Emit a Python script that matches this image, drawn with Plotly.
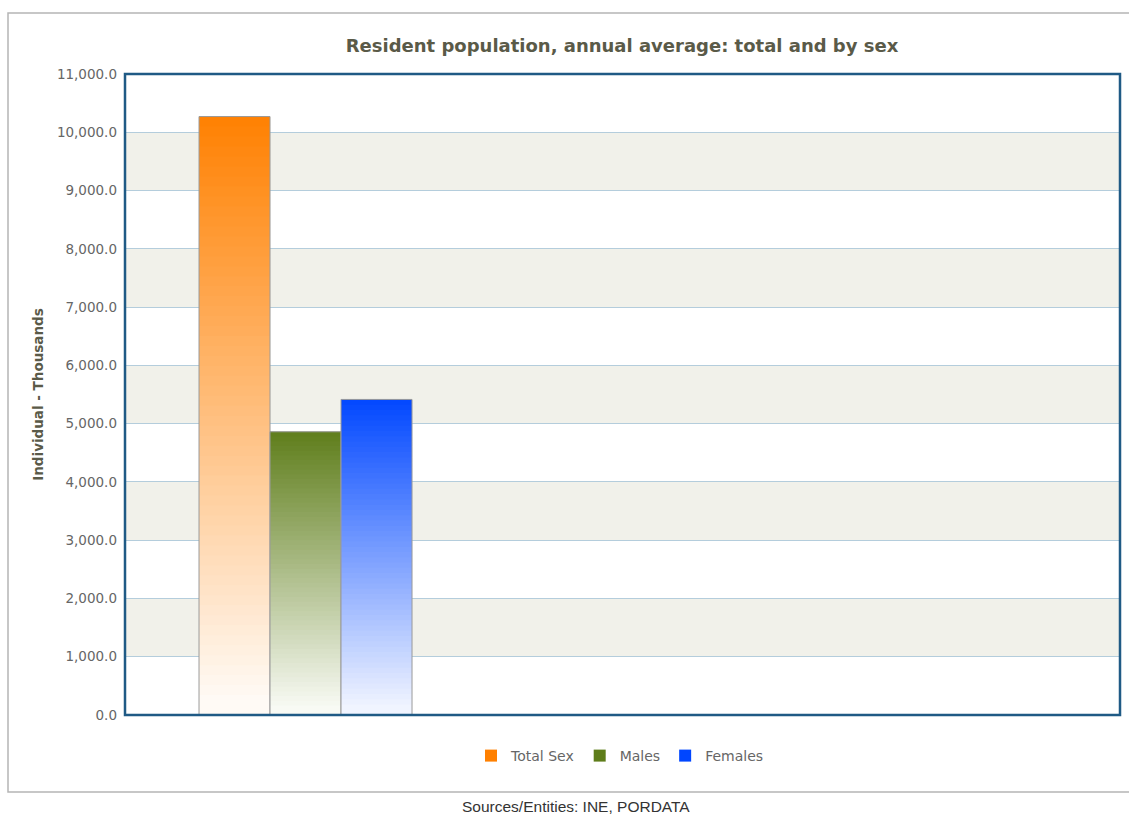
import plotly.graph_objects as go

# ---- data ----
categories = ["Portugal"]
series_names = ["Total Sex", "Males", "Females"]
series_values = [10270.0, 4860.0, 5415.0]
tick_values = [0, 1000, 2000, 3000, 4000, 5000, 6000, 7000, 8000, 9000, 10000, 11000]

top_colors = [(255, 128, 0), (94, 125, 26), (0, 70, 255)]
bottom_colors = [(255, 250, 245), (248, 250, 244), (240, 244, 255)]

N = 60
fig = go.Figure()
bar_w = 0.8 / 3
for i, (name, val) in enumerate(zip(series_names, series_values)):
    h = val / N
    bases, heights, cols = [], [], []
    for k in range(N):
        t = k / (N - 1)
        c = tuple(int(round(top_colors[i][j] + (bottom_colors[i][j] - top_colors[i][j]) * t)) for j in range(3))
        b = val - (k + 1) * h
        bases.append(b)
        heights.append(h if k == 0 else 2 * h)
        cols.append("rgb(%d,%d,%d)" % c)
    fig.add_trace(go.Bar(
        x=[categories[0]] * N, y=heights, base=bases, name=name,
        width=bar_w, offset=-0.4 + i * bar_w,
        marker=dict(color=cols, line=dict(width=0)),
        showlegend=True, legendgroup=name, hoverinfo="skip",
    ))
    fig.add_trace(go.Bar(
        x=[categories[0]], y=[val], width=bar_w, offset=-0.4 + i * bar_w,
        marker=dict(color="rgba(0,0,0,0)", line=dict(color="#9a9a9a", width=1)),
        showlegend=False, legendgroup=name, name=name,
        hovertemplate=name + ": %{y:,.1f}<extra></extra>",
    ))

shapes = []
for lo in range(1000, 11000, 2000):
    shapes.append(dict(type="rect", xref="paper", yref="y", x0=0, x1=1, y0=lo, y1=lo + 1000,
                       fillcolor="#F1F1EA", line=dict(width=0), layer="below"))
# outer frame
shapes.append(dict(type="rect", xref="paper", yref="paper",
                   x0=(8 - 125) / 995, x1=(1135 - 125) / 995,
                   y0=(715 - 792) / 641, y1=(715 - 13) / 641,
                   line=dict(color="#B5B5B5", width=1.5), fillcolor="rgba(0,0,0,0)", layer="below"))
# plot border
shapes.append(dict(type="rect", xref="paper", yref="paper", x0=0, x1=1, y0=0, y1=1,
                   line=dict(color="#1F5A85", width=2.5), fillcolor="rgba(0,0,0,0)", layer="above"))

fig.update_layout(
    width=1129, height=814,
    margin=dict(l=125, r=9, t=74, b=99),
    paper_bgcolor="white", plot_bgcolor="white",
    barmode="overlay",
    shapes=shapes,
    title=dict(text="<b>Resident population, annual average: total and by sex</b>",
               x=622 / 1129, xanchor="center", y=1 - 46 / 814, yanchor="middle",
               font=dict(family="DejaVu Sans", size=18, color="#5A5A48")),
    xaxis=dict(range=[-0.678, 3.059], showticklabels=False, showgrid=False, zeroline=False,
               fixedrange=True),
    yaxis=dict(range=[0, 11000], tickvals=tick_values, tickformat=",.1f",
               showgrid=True, gridcolor="#B4CDDC", gridwidth=1, zeroline=False,
               tickfont=dict(family="DejaVu Sans", size=13.5, color="#666666"),
               ticks="", ticklen=0, ticklabelstandoff=7,
               title=dict(text="<b>Individual - Thousands</b>", standoff=10,
                          font=dict(family="DejaVu Sans", size=13.5, color="#5A5A48"))),
    legend=dict(orientation="h", x=(620 - 125) / 995, xanchor="center",
                y=(715 - 756) / 641, yanchor="middle",
                font=dict(family="DejaVu Sans", size=14, color="#666666"),
                itemwidth=30, bgcolor="rgba(0,0,0,0)"),
    annotations=[dict(text="Sources/Entities: INE, PORDATA", xref="paper", yref="paper",
                      x=(576 - 125) / 995, y=(715 - 806) / 641, xanchor="center", yanchor="middle",
                      showarrow=False, font=dict(family="Liberation Sans", size=15.5, color="#333333"))],
)

fig.write_html("out.html", config={"displayModeBar": False},
               post_script="document.body.style.margin='0';document.body.style.overflow='hidden';")
